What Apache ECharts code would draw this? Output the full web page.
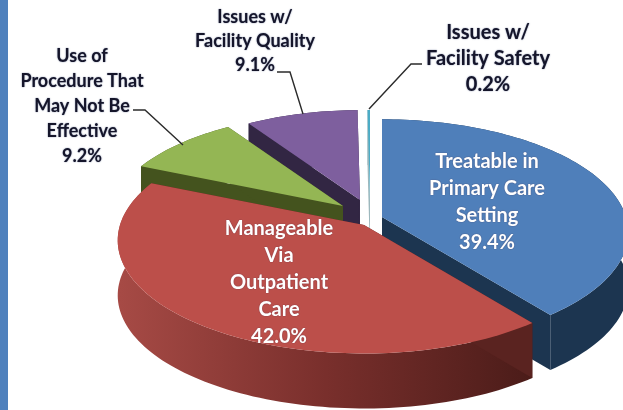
<!DOCTYPE html>
<html>
<head>
<meta charset="utf-8">
<style>html,body{margin:0;padding:0;background:#fff}#c{width:623px;height:410px}</style>
<script src="https://cdn.jsdelivr.net/npm/echarts@6/dist/echarts.min.js"></script>
</head>
<body>
<div id="c"></div>
<script>
// ---- data ----
const categories = [
  "Treatable in\nPrimary Care\nSetting",
  "Manageable\nVia\nOutpatient\nCare",
  "Use of\nProcedure That\nMay Not Be\nEffective",
  "Issues w/\nFacility Quality",
  "Issues w/\nFacility Safety"
];
const values = [39.4, 42.0, 9.2, 9.1, 0.2];

// ---- styles / layout ----
const topColors  = ["#4f7fba", "#bc4f4a", "#94b654", "#7e5f9e", "#4bacc6"];
const faceColors = ["#1c3550", "#5a2320", "#44531e", "#322643", "#9db8bd"];
const labelColors = ["#ffffff", "#ffffff", "#15152a", "#15152a", "#15152a"];
const labelSizes = [20, 20, 18, 18, 20];
const drawRank = [3, 4, 2, 0, 1];
const apexes = [[382, 217], [364, 225], [343, 206], [360, 200], [370, 200]];
const scales = [1, 1, 0.95, 0.92, 0.92];
const labelPos = [[487, 202, 27], [279, 283, 27], [82, 106, 25], [255, 41, 24], [488, 59, 26]];
const leaders = [null, null,
  [[133, 110], [145, 110], [183, 145]],
  [[277, 72], [290, 72], [303, 114]],
  [[422, 64], [411, 64], [369, 109]]];
const RX = 244, RY = 111, PERSP = 0.136, DEPTH = 55;
const total = values.reduce((a, b) => a + b, 0);

function project(apex, deg, s) {
  const a = deg * Math.PI / 180, u = Math.sin(a), v = -Math.cos(a);
  const w = 1 / (1 - PERSP * v);
  return [apex[0] + s * RX * u * w, apex[1] + s * RY * v * w];
}
const down = p => [p[0], p[1] + DEPTH];
const redWall = { type: 'linear', x: 120, y: 0, x2: 532, y2: 0, global: true, colorStops: [
  { offset: 0, color: '#a64a45' }, { offset: 0.5, color: '#792f2c' }, { offset: 1, color: '#4b1c19' }] };

function renderItem(params, api) {
  const i = params.dataIndex;
  let start = 0;
  for (let k = 0; k < i; k++) start += values[k];
  const from = start / total * 360, to = (start + api.value(1)) / total * 360;
  const apex = apexes[i], arc = [];
  const n = Math.max(2, Math.ceil((to - from) / 1.5));
  for (let k = 0; k <= n; k++) arc.push(project(apex, from + (to - from) * k / n, scales[i]));
  const base = drawRank[i] * 10;
  const wallFill = i === 1 ? redWall : faceColors[i];
  const poly = (pts, fill, z) => ({ type: 'polygon', shape: { points: pts }, style: { fill: fill }, z2: z, silent: true });
  const children = [
    poly(arc.concat(arc.slice().reverse().map(down)), wallFill, base),
    poly([apex, arc[0], down(arc[0]), down(apex)], faceColors[i], base + 1),
    poly([apex, arc[n], down(arc[n]), down(apex)], faceColors[i], base + 1),
    poly([apex].concat(arc), topColors[i], base + 2)
  ];
  if (leaders[i]) children.push({ type: 'polyline', shape: { points: leaders[i] },
    style: { stroke: '#2b2b2b', lineWidth: 1.4, fill: null }, z2: 100, silent: true });
  const lp = labelPos[i];
  children.push({ type: 'text', x: lp[0], y: lp[1], z2: 110, silent: true, style: {
    text: categories[i] + "\n" + api.value(1).toFixed(1) + "%",
    fill: labelColors[i], align: 'center', verticalAlign: 'middle',
    font: 'bold ' + labelSizes[i] + 'px Lato, "Open Sans", sans-serif', lineHeight: lp[2],
    textShadowColor: i < 2 ? 'rgba(60,30,60,0.55)' : 'rgba(20,40,90,0.6)', textShadowBlur: 1.5 } });
  return { type: 'group', children: children };
}

const chart = echarts.init(document.getElementById('c'), null, { renderer: 'canvas' });
chart.setOption({
  animation: false,
  backgroundColor: '#ffffff',
  graphic: [{ type: 'rect', left: 0, top: 0, shape: { width: 8, height: 410 }, style: { fill: '#4f81bd' }, silent: true }],
  series: [{
    type: 'custom',
    coordinateSystem: 'none',
    silent: true,
    renderItem: renderItem,
    dimensions: ['index', 'value'],
    data: values.map((v, i) => [i, v])
  }]
});
</script>
</body>
</html>
